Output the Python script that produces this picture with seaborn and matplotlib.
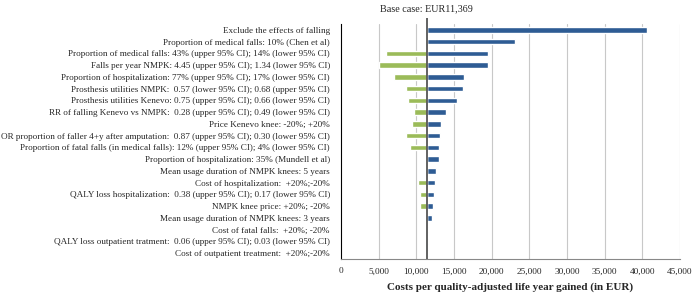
import numpy as np
import matplotlib
matplotlib.use("Agg")
import matplotlib.pyplot as plt
import seaborn as sns

# tornado data: parameter label, low-side result (green), high-side result (blue)
base_case = 11369

labels = [
    "Exclude the effects of falling",
    "Proportion of medical falls: 10% (Chen et al)",
    "Proportion of medical falls: 43% (upper 95% CI); 14% (lower 95% CI)",
    "Falls per year NMPK: 4.45 (upper 95% CI); 1.34 (lower 95% CI)",
    "Proportion of hospitalization: 77% (upper 95% CI); 17% (lower 95% CI)",
    "Prosthesis utilities NMPK:  0.57 (lower 95% CI); 0.68 (upper 95% CI)",
    "Prosthesis utilities Kenevo: 0.75 (upper 95% CI); 0.66 (lower 95% CI)",
    "RR of falling Kenevo vs NMPK:  0.28 (upper 95% CI); 0.49 (lower 95% CI)",
    "Price Kenevo knee: -20%; +20%",
    "OR proportion of faller 4+y after amputation:  0.87 (upper 95% CI); 0.30 (lower 95% CI)",
    "Proportion of fatal falls (in medical falls): 12% (upper 95% CI); 4% (lower 95% CI)",
    "Proportion of hospitalization: 35% (Mundell et al)",
    "Mean usage duration of NMPK knees: 5 years",
    "Cost of hospitalization:  +20%;-20%",
    "QALY loss hospitalization:  0.38 (upper 95% CI); 0.17 (lower 95% CI)",
    "NMPK knee price: +20%; -20%",
    "Mean usage duration of NMPK knees: 3 years",
    "Cost of fatal falls:  +20%; -20%",
    "QALY loss outpatient tratment:  0.06 (upper 95% CI); 0.03 (lower 95% CI)",
    "Cost of outpatient treatment:  +20%;-20%",
]

low_values = [11369, 11369, 5930, 5090, 7000, 8670, 8900, 9690, 9430, 8670,
              9200, 11369, 11369, 10220, 10500, 10500, 11369, 11269, 11300, 11300]
high_values = [40580, 23140, 19560, 19470, 16280, 16200, 15400, 13940, 13230, 13180,
               13050, 13000, 12600, 12480, 12280, 12170, 12030, 11600, 11550, 11550]

xticks = list(range(0, 45001, 5000))

serif = ["Liberation Serif", "DejaVu Serif"]

sns.set_style("white")
plt.rcParams["font.family"] = serif

fig = plt.figure(figsize=(6.95, 2.94), dpi=100)
ax = fig.add_axes([341 / 695, 35 / 294, 339 / 695, 235 / 294])

for x in xticks[1:]:
    ax.axvline(x, color="#c8c8c8", lw=0.8, zorder=0)

low = np.array(low_values)
high = np.array(high_values)

sns.barplot(x=high - base_case, y=labels, left=base_case, color="#2e5c94",
            orient="h", width=0.45, saturation=1, ax=ax, zorder=2)
sns.barplot(x=low - base_case, y=labels, left=base_case, color="#9bbb59",
            orient="h", width=0.45, saturation=1, ax=ax, zorder=2)

ax.set_xlim(0, 45000)
ax.set_ylim(len(labels) - 0.5, -0.5)
ax.set_xticks(xticks)
ax.set_xticklabels([f"{v:,}" for v in xticks], fontsize=6.7)
ax.tick_params(axis="x", length=0, pad=6)
ax.tick_params(axis="y", which="major", length=0, labelsize=6.6, pad=8)
ax.set_yticks(np.arange(-0.5, len(labels) + 0.5, 1), minor=True)
ax.tick_params(axis="y", which="minor", length=3, width=0.8, color="black", direction="out")
ax.set_ylabel("")
ax.set_xlabel("Costs per quality-adjusted life year gained (in EUR)",
              fontsize=8, fontweight="bold", labelpad=5)

for s in ["top", "right"]:
    ax.spines[s].set_visible(False)
ax.spines["left"].set_color("black")
ax.spines["left"].set_linewidth(0.8)
ax.spines["bottom"].set_color("#888888")
ax.spines["bottom"].set_linewidth(0.8)

# base case line, running above the plot area
ax.vlines(base_case, len(labels) - 0.5, -1.0, color="#555555", lw=1.3,
          clip_on=False, zorder=3)
ax.text(base_case, -1.45, "Base case: EUR11,369", ha="center", va="bottom",
        fontsize=7.3)

fig.savefig("out.png", dpi=100)
